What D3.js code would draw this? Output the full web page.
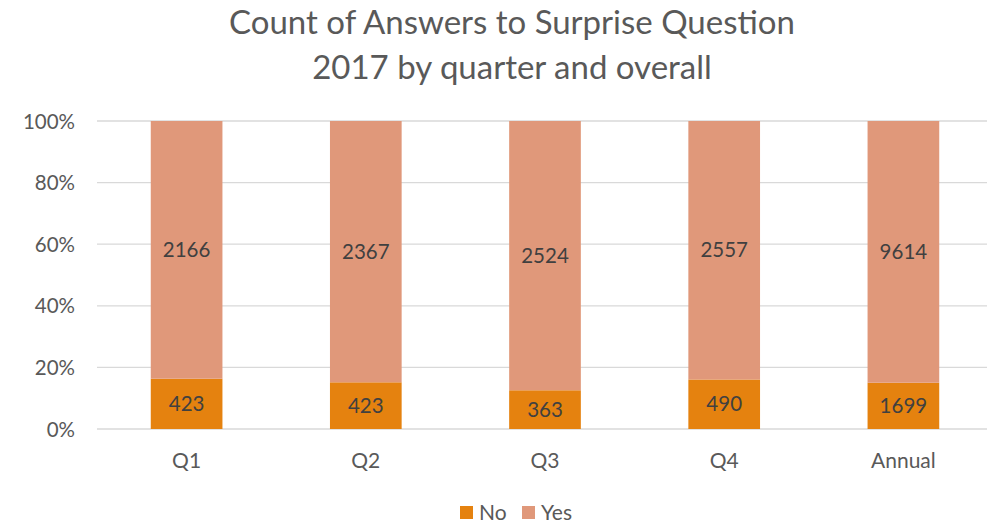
<!DOCTYPE html>
<html>
<head>
<meta charset="utf-8">
<script src="https://cdn.jsdelivr.net/npm/d3@7"></script>
<style>
  html, body { margin: 0; padding: 0; background: #fff; }
  svg text { font-family: Lato, "Open Sans", sans-serif; }
</style>
</head>
<body>
<svg id="chart"></svg>
<script>
// data
const categories = ['Q1', 'Q2', 'Q3', 'Q4', 'Annual'];
const noCounts = [423, 423, 363, 490, 1699];
const yesCounts = [2166, 2367, 2524, 2557, 9614];
const yTicks = [0, 0.2, 0.4, 0.6, 0.8, 1];
const seriesNames = ['No', 'Yes'];
const colors = { No: '#E5820F', Yes: '#E0987A' };

const W = 991, H = 527;
const margin = { top: 121, right: 0, bottom: 98, left: 97 };
const width = 993 - margin.left;
const height = H - margin.top - margin.bottom;

const svg = d3.select('#chart').attr('width', W).attr('height', H);

// title
svg.append('text')
  .attr('x', 512).attr('y', 34)
  .attr('text-anchor', 'middle')
  .attr('fill', '#595959')
  .style('font-size', '33px')
  .text('Count of Answers to Surprise Question');
svg.append('text')
  .attr('x', 512).attr('y', 79)
  .attr('text-anchor', 'middle')
  .attr('fill', '#595959')
  .style('font-size', '33px')
  .text('2017 by quarter and overall');

const g = svg.append('g').attr('transform', `translate(${margin.left},${margin.top})`);

const x = d3.scaleBand().domain(categories).range([0, width]).paddingInner(0.6).paddingOuter(0.3);
const y = d3.scaleLinear().domain([0, 1]).range([height, 0]);

// rows with percentages
const rows = categories.map((c, i) => {
  const total = noCounts[i] + yesCounts[i];
  return { cat: c, No: noCounts[i], Yes: yesCounts[i], pNo: noCounts[i] / total, pYes: yesCounts[i] / total };
});

// gridlines
g.append('g')
  .selectAll('line')
  .data(yTicks)
  .join('line')
  .attr('x1', 0).attr('x2', width - 6)
  .attr('y1', d => y(d)).attr('y2', d => y(d))
  .attr('stroke', '#d9d9d9').attr('stroke-width', 1.3);

// y axis labels
const yAxis = g.append('g')
  .call(d3.axisLeft(y).tickValues(yTicks).tickFormat(d3.format('.0%')).tickSize(0).tickPadding(22));
yAxis.select('.domain').remove();
yAxis.selectAll('text').attr('fill', '#595959').style('font-size', '20.5px').attr('dy', '0.35em');

// x axis labels
const xAxis = g.append('g')
  .attr('transform', `translate(0,${height})`)
  .call(d3.axisBottom(x).tickSize(0).tickPadding(24));
xAxis.select('.domain').remove();
xAxis.selectAll('text').attr('fill', '#595959').style('font-size', '21px');

const stack = d3.stack().keys(['pNo', 'pYes'])(rows);

stack.forEach((layer, li) => {
  const name = seriesNames[li];
  const lg = g.append('g');
  lg.selectAll('rect')
    .data(layer)
    .join('rect')
    .attr('x', d => x(d.data.cat))
    .attr('width', x.bandwidth())
    .attr('y', d => y(d[1]))
    .attr('height', d => y(d[0]) - y(d[1]))
    .attr('fill', colors[name]);
  lg.selectAll('text')
    .data(layer)
    .join('text')
    .attr('x', d => x(d.data.cat) + x.bandwidth() / 2)
    .attr('y', d => (y(d[0]) + y(d[1])) / 2)
    .attr('dy', '0.35em')
    .attr('text-anchor', 'middle')
    .attr('fill', '#404040')
    .style('font-size', '20.5px')
    .text(d => d.data[name]);
});

// legend
const legend = svg.append('g').attr('transform', 'translate(460,506)');
const items = [{ name: 'No', dx: 0 }, { name: 'Yes', dx: 62 }];
items.forEach(it => {
  legend.append('rect')
    .attr('x', it.dx).attr('y', 0)
    .attr('width', 13).attr('height', 13)
    .attr('fill', colors[it.name]);
  legend.append('text')
    .attr('x', it.dx + 19).attr('y', 7)
    .attr('dy', '0.35em')
    .attr('fill', '#595959')
    .style('font-size', '21px')
    .text(it.name);
});
</script>
</body>
</html>
